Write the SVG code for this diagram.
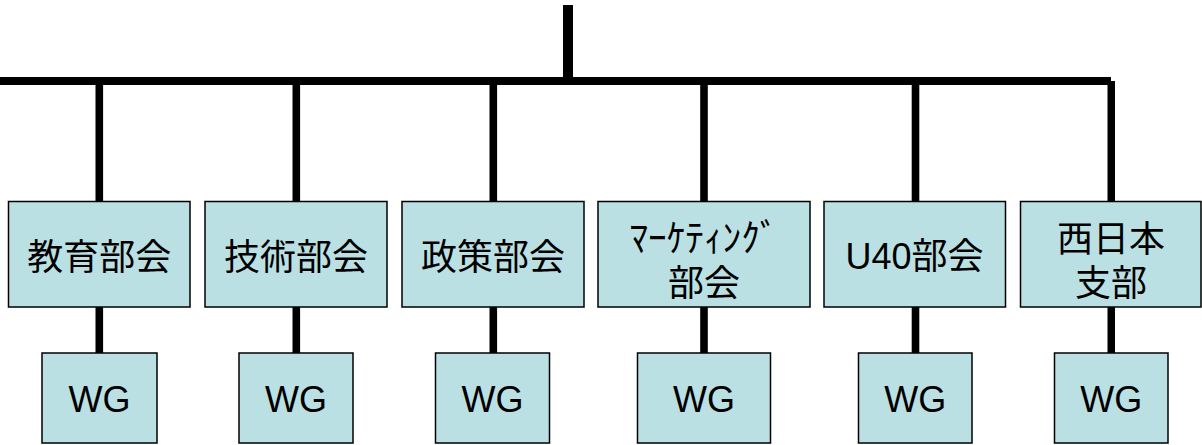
<svg xmlns="http://www.w3.org/2000/svg" width="1202" height="445" viewBox="0 0 1202 445">
<style>
.box{fill:#BBE0E3;stroke:#000;stroke-width:1.5}
.ln{fill:#000}
.t{font-family:"Liberation Sans","Noto Sans CJK JP",sans-serif;font-size:36px;fill:#000;text-anchor:middle}
</style>
<rect width="1202" height="445" fill="#fff"/>
<g id="connectors">
<rect class="ln" x="563" y="5" width="10" height="76"/>
<rect class="ln" x="0" y="77" width="1111" height="8"/>
<rect class="ln" x="1107.5" y="81" width="7.5" height="121"/>
<rect class="ln" x="95.5" y="84" width="7.6" height="118"/>
<rect class="ln" x="292.5" y="84" width="7.6" height="118"/>
<rect class="ln" x="489.5" y="84" width="7.6" height="118"/>
<rect class="ln" x="700.2" y="84" width="7.6" height="118"/>
<rect class="ln" x="911.7" y="84" width="7.6" height="118"/>
<rect class="ln" x="95.5" y="307" width="7.6" height="46"/>
<rect class="ln" x="292.5" y="307" width="7.6" height="46"/>
<rect class="ln" x="489.5" y="307" width="7.6" height="46"/>
<rect class="ln" x="700.2" y="307" width="7.6" height="46"/>
<rect class="ln" x="911.7" y="307" width="7.6" height="46"/>
<rect class="ln" x="1107.5" y="307" width="7.5" height="46"/>
</g>
<g id="kyoiku"><rect class="box" x="8.5" y="201.5" width="181.5" height="105.5"/><text class="t" x="99.3" y="270">教育部会</text></g>
<g id="gijutsu"><rect class="box" x="205" y="201.5" width="182" height="105.5"/><text class="t" x="296" y="270">技術部会</text></g>
<g id="seisaku"><rect class="box" x="402" y="201.5" width="182" height="105.5"/><text class="t" x="493" y="270">政策部会</text></g>
<g id="marketing"><rect class="box" x="598" y="201.5" width="212" height="105.5"/><text class="t" x="704" y="251" style="font-size:38px" textLength="149" lengthAdjust="spacingAndGlyphs">ﾏｰｹﾃｨﾝｸﾞ</text><text class="t" x="704" y="296">部会</text></g>
<g id="u40"><rect class="box" x="824" y="201.5" width="181.5" height="105.5"/><text class="t" x="914.5" y="269">U40部会</text></g>
<g id="nishinihon"><rect class="box" x="1020.5" y="201.5" width="180.5" height="105.5"/><text class="t" x="1111" y="252">西日本</text><text class="t" x="1111" y="296">支部</text></g>
<g id="wg1"><rect class="box" x="42" y="353" width="115" height="90"/><text class="t" x="99.5" y="412">WG</text></g>
<g id="wg2"><rect class="box" x="239" y="353" width="114" height="90"/><text class="t" x="296" y="412">WG</text></g>
<g id="wg3"><rect class="box" x="435.5" y="353" width="114" height="90"/><text class="t" x="492.5" y="412">WG</text></g>
<g id="wg4"><rect class="box" x="637.5" y="353" width="133" height="90"/><text class="t" x="704" y="412">WG</text></g>
<g id="wg5"><rect class="box" x="858.5" y="353" width="113.5" height="90"/><text class="t" x="915.2" y="412">WG</text></g>
<g id="wg6"><rect class="box" x="1054.5" y="353" width="113.5" height="90"/><text class="t" x="1111.2" y="412">WG</text></g>
</svg>
